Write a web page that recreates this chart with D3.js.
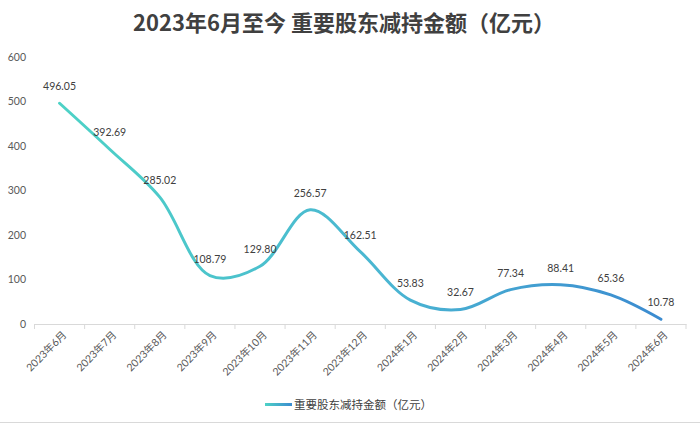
<!DOCTYPE html>
<html><head><meta charset="utf-8">
<script src="https://cdn.jsdelivr.net/npm/d3@7"></script>
<style>
html,body{margin:0;padding:0;background:#fff;}
svg{display:block;}
</style></head>
<body><svg id="c" width="700" height="424"></svg>
<script>
const categories = ["2023年6月","2023年7月","2023年8月","2023年9月","2023年10月","2023年11月","2023年12月","2024年1月","2024年2月","2024年3月","2024年4月","2024年5月","2024年6月"];
const values = [496.05,392.69,285.02,108.79,129.80,256.57,162.51,53.83,32.67,77.34,88.41,65.36,10.78];
const yTicks = [0,100,200,300,400,500,600];
const seriesName = "重要股东减持金额（亿元）";
const titleText = "2023年6月至今 重要股东减持金额（亿元）";

(function(){
const svg = d3.select("#c");
const W = 700, H = 424;
const mLeft = 34.5, mRight = 686, mTop = 57, mBottom = 324;
const x = d3.scaleBand().domain(categories).range([mLeft, mRight]);
const y = d3.scaleLinear().domain([0,600]).range([mBottom, mTop]);
const font = "Lato, 'Noto Sans CJK SC', sans-serif";

svg.append("rect").attr("width",W).attr("height",H).attr("fill","#fff");
svg.append("line").attr("x1",0).attr("x2",W).attr("y1",422.5).attr("y2",422.5).attr("stroke","#d9d9d9");

svg.append("text").attr("x",344).attr("y",31).attr("text-anchor","middle")
  .attr("font-family","'Noto Sans CJK SC', sans-serif").attr("font-weight","bold")
  .attr("font-size",22).attr("fill","#404040").text(titleText);

// y axis labels
const ya = svg.append("g").attr("transform",`translate(26,0)`)
  .call(d3.axisLeft(y).tickValues(yTicks).tickSize(0).tickPadding(0));
ya.select(".domain").remove();
ya.selectAll("text").attr("font-family",font).attr("font-size",10.5).attr("fill","#595959");

// x axis
const xa = svg.append("g").attr("transform",`translate(0,${mBottom})`)
  .call(d3.axisBottom(x).tickSize(0).tickPadding(0));
xa.select(".domain").attr("stroke","#d9d9d9");
xa.selectAll(".tick line").remove();
const bounds = categories.map(c => x(c)).concat([x(categories[categories.length-1]) + x.bandwidth()]);
svg.append("g").selectAll("line").data(bounds).join("line")
  .attr("x1",d=>d).attr("x2",d=>d).attr("y1",mBottom).attr("y2",mBottom+5)
  .attr("stroke","#d9d9d9");
xa.selectAll("text").attr("font-family",font).attr("font-size",10.5).attr("fill","#595959")
  .attr("text-anchor","end")
  .attr("transform","translate(5,9) rotate(-45)").attr("dy","0.35em");

const defs = svg.append("defs");
const g = defs.append("linearGradient").attr("id","lg").attr("gradientUnits","userSpaceOnUse")
  .attr("x1",x(categories[0])+x.bandwidth()/2).attr("x2",x(categories[categories.length-1])+x.bandwidth()/2)
  .attr("y1",0).attr("y2",0);
g.append("stop").attr("offset","0%").attr("stop-color","#4dd2c6");
g.append("stop").attr("offset","55%").attr("stop-color","#4ab5d2");
g.append("stop").attr("offset","100%").attr("stop-color","#3b8bd0");

const line = d3.line()
  .x((d,i)=>x(categories[i])+x.bandwidth()/2)
  .y(d=>y(d))
  .curve(d3.curveCatmullRom.alpha(0.5));
svg.append("path").datum(values).attr("d",line).attr("fill","none")
  .attr("stroke","url(#lg)").attr("stroke-width",3).attr("stroke-linecap","round");

svg.append("g").selectAll("text").data(values).join("text")
  .attr("x",(d,i)=>x(categories[i])+x.bandwidth()/2)
  .attr("y",d=>y(d)-13)
  .attr("text-anchor","middle").attr("font-family",font).attr("font-size",10.5)
  .attr("fill","#404040").text(d=>d.toFixed(2));

const lg = defs.append("linearGradient").attr("id","lg2");
lg.append("stop").attr("offset","0%").attr("stop-color","#4dd2c6");
lg.append("stop").attr("offset","100%").attr("stop-color","#3b8bd0");
svg.append("rect").attr("x",265).attr("y",403).attr("width",27).attr("height",3).attr("fill","url(#lg2)");
svg.append("text").attr("x",294).attr("y",408.5).attr("font-family","'Noto Sans CJK SC', sans-serif")
  .attr("font-size",11.5).attr("fill","#404040").text(seriesName);
})();
</script></body></html>
